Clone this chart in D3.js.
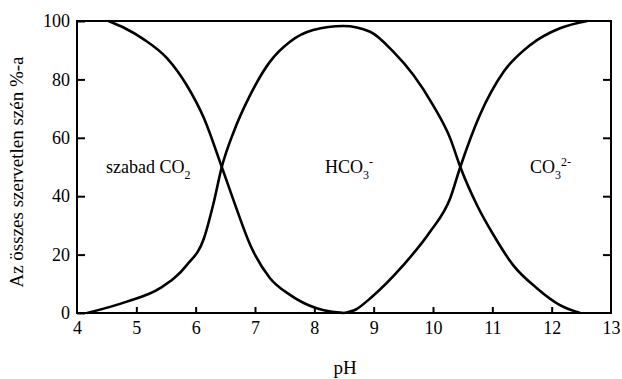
<!DOCTYPE html>
<html><head><meta charset="utf-8">
<script src="https://cdn.jsdelivr.net/npm/d3@7"></script>
<style>body{margin:0;background:#fff}svg{display:block}</style>
</head><body>
<svg id="c" width="622" height="379"></svg>
<script>
const xTicks = [4,5,6,7,8,9,10,11,12,13];
const yTicks = [0,20,40,60,80,100];
const co2PH  = [4.53,4.8,5.12,5.52,5.85,6.14,6.44,6.64,6.92,7.25,7.59,8.04,8.3,8.5];
const co2Val = [100,97.6,93.8,87.2,78,66.7,50,38.5,23.3,12,6.2,1.6,0.4,0];
const hco3PH  = [4.17,4.84,5.4,5.85,6.14,6.3,6.44,6.64,6.92,7.25,7.59,7.98,8.49,8.94,9.33,9.67,10.0,10.29,10.46,10.74,11.02,11.35,11.75,12.14,12.48];
const hco3Val = [0,3.9,8.5,16.4,25.6,37.5,50,62,74.7,86,92.9,96.9,98.3,96.3,89.5,81.5,71.2,59.8,50,37,26.7,16.4,8.5,2.7,0];
const co3PH  = [8.5,8.7,8.94,9.5,9.95,10.29,10.46,10.79,11.19,11.64,12.14,12.6];
const co3Val = [0,1.2,5,16.4,27.8,39.3,50,67.8,82.6,91.8,97.5,100];

const FONT = '"Liberation Serif","Times New Roman",Times,"DejaVu Serif",serif';
const svg = d3.select("#c");
const L=77,R=611,T=21,B=313;
const x = d3.scaleLinear().domain([4,13]).range([L,R]);
const y = d3.scaleLinear().domain([0,100]).range([B,T]);

const line = d3.line().x(d=>x(d[0])).y(d=>y(d[1])).curve(d3.curveMonotoneX);
const zip = (a,b)=>a.map((v,i)=>[v,b[i]]);
[zip(co2PH,co2Val), zip(hco3PH,hco3Val), zip(co3PH,co3Val)].forEach(s=>{
  svg.append("path").attr("d",line(s)).attr("fill","none").attr("stroke","#000").attr("stroke-width",2.6);
});

// axes
const ax = svg.append("g").attr("transform",`translate(0,${B})`)
  .call(d3.axisBottom(x).tickValues(xTicks).tickSize(-6).tickPadding(8).tickFormat(d3.format("d")));
const ay = svg.append("g").attr("transform",`translate(${L},0)`)
  .call(d3.axisLeft(y).tickValues(yTicks).tickSize(-8).tickPadding(7));
const ar = svg.append("g").attr("transform",`translate(${R},0)`)
  .call(d3.axisRight(y).tickValues([20,40,60,80]).tickSize(-8).tickFormat(""));
[ax,ay,ar].forEach(g=>{
  g.attr("font-family",null);
  g.select(".domain").remove();
  g.selectAll("line").attr("stroke","#000").attr("stroke-width",2);
  g.selectAll("text").attr("font-size",18).style("font-family",FONT).attr("fill","#000");
});
ax.selectAll(".tick").filter(d=>d===4||d===13).select("line").remove();

svg.append("rect").attr("x",L).attr("y",T).attr("width",R-L).attr("height",B-T)
  .attr("fill","none").attr("stroke","#000").attr("stroke-width",2);

// titles
svg.append("text").attr("x",345).attr("y",374).attr("text-anchor","middle").attr("font-size",19)
  .style("font-family",FONT).text("pH");
svg.append("text").attr("transform","translate(23,172) rotate(-90)").attr("text-anchor","middle")
  .attr("font-size",19).style("font-family",FONT).text("Az összes szervetlen szén %-a");

// species labels
function label(xp, parts){
  const t = svg.append("text").attr("x",xp).attr("y",173).attr("font-size",18).style("font-family",FONT);
  parts.forEach(p=>{
    const s = t.append("tspan").text(p.t);
    if(p.sub){ s.attr("y",179).attr("font-size",12); }
    else if(p.sup){ s.attr("y",166).attr("font-size",12); }
    else s.attr("y",173);
  });
}
label(106,[{t:"szabad CO"},{t:"2",sub:true}]);
label(325,[{t:"HCO"},{t:"3",sub:true},{t:"-",sup:true}]);
label(530,[{t:"CO"},{t:"3",sub:true},{t:"2-",sup:true}]);
</script>
</body></html>
